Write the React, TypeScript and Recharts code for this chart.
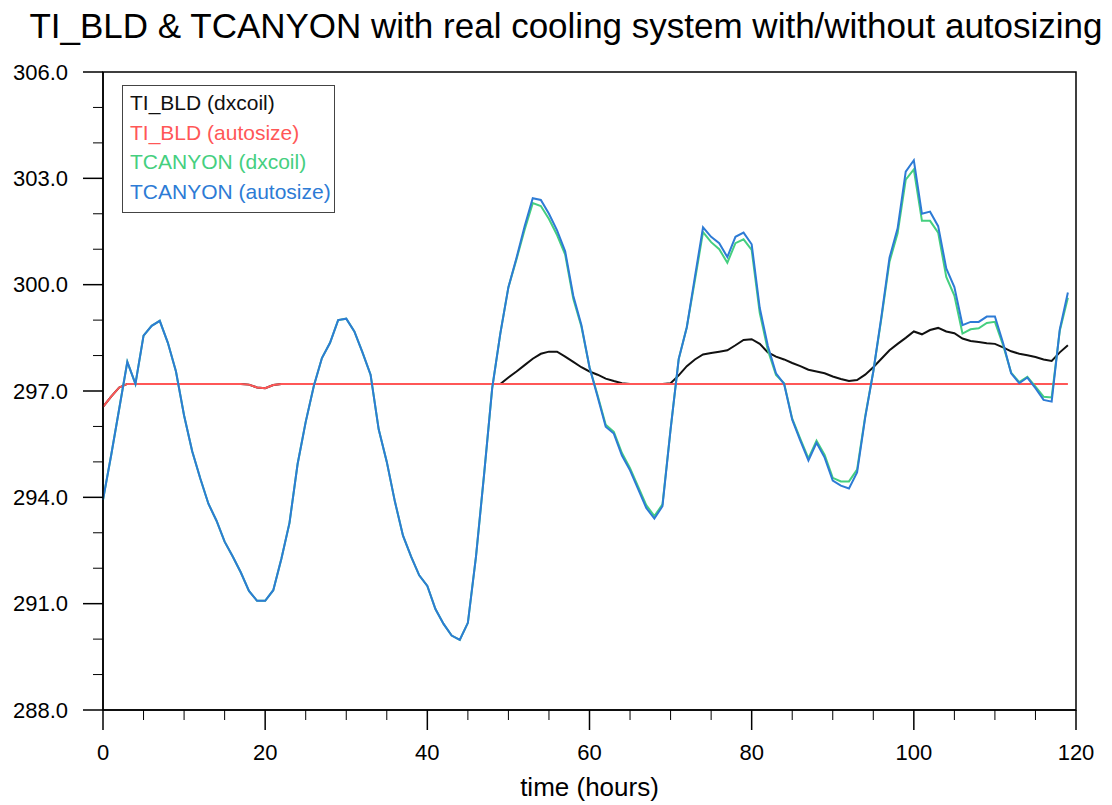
import { Line, LineChart, ReferenceArea, XAxis, YAxis } from "recharts";

const FONT = "'Liberation Sans', Arial, Helvetica, sans-serif";

const xTicks = [0, 5, 10, 15, 20, 25, 30, 35, 40, 45, 50, 55, 60, 65, 70, 75, 80, 85, 90, 95, 100, 105, 110, 115, 120];
const yTicks = [288, 289, 290, 291, 292, 293, 294, 295, 296, 297, 298, 299, 300, 301, 302, 303, 304, 305, 306];

// TI_BLD (dxcoil), hourly
const tiBldDxcoil = [
  296.55, 296.84, 297.1, 297.2, 297.2, 297.2, 297.2, 297.2, 297.2, 297.2,
  297.2, 297.2, 297.2, 297.2, 297.2, 297.2, 297.2, 297.2, 297.18, 297.1,
  297.08, 297.17, 297.2, 297.2, 297.2, 297.2, 297.2, 297.2, 297.2, 297.2,
  297.2, 297.2, 297.2, 297.2, 297.2, 297.2, 297.2, 297.2, 297.2, 297.2,
  297.2, 297.2, 297.2, 297.2, 297.2, 297.2, 297.2, 297.2, 297.2, 297.2,
  297.38, 297.55, 297.73, 297.91, 298.05, 298.11, 298.11, 297.97, 297.82, 297.67,
  297.55, 297.46, 297.35, 297.28, 297.22, 297.2, 297.2, 297.2, 297.2, 297.2,
  297.22, 297.44, 297.7, 297.89, 298.03, 298.07, 298.11, 298.15, 298.29, 298.44,
  298.46, 298.33, 298.09, 297.97, 297.89, 297.79, 297.7, 297.6, 297.55, 297.5,
  297.41, 297.34, 297.28, 297.31, 297.46, 297.67, 297.91, 298.15, 298.33, 298.5,
  298.68, 298.6, 298.72, 298.78, 298.68, 298.63, 298.48, 298.41, 298.38, 298.35,
  298.33, 298.23, 298.12, 298.05, 298.01, 297.96, 297.89, 297.85, 298.09, 298.29,
];

// TI_BLD (autosize)
const tiBldAutosize = [
  296.55, 296.84, 297.1, 297.2, 297.2, 297.2, 297.2, 297.2, 297.2, 297.2,
  297.2, 297.2, 297.2, 297.2, 297.2, 297.2, 297.2, 297.2, 297.18, 297.1,
  297.08, 297.17, 297.2, 297.2, 297.2, 297.2, 297.2, 297.2, 297.2, 297.2,
  297.2, 297.2, 297.2, 297.2, 297.2, 297.2, 297.2, 297.2, 297.2, 297.2,
  297.2, 297.2, 297.2, 297.2, 297.2, 297.2, 297.2, 297.2, 297.2, 297.2,
  297.2, 297.2, 297.2, 297.2, 297.2, 297.2, 297.2, 297.2, 297.2, 297.2,
  297.2, 297.2, 297.2, 297.2, 297.2, 297.2, 297.2, 297.2, 297.2, 297.2,
  297.2, 297.2, 297.2, 297.2, 297.2, 297.2, 297.2, 297.2, 297.2, 297.2,
  297.2, 297.2, 297.2, 297.2, 297.2, 297.2, 297.2, 297.2, 297.2, 297.2,
  297.2, 297.2, 297.2, 297.2, 297.2, 297.2, 297.2, 297.2, 297.2, 297.2,
  297.2, 297.2, 297.2, 297.2, 297.2, 297.2, 297.2, 297.2, 297.2, 297.2,
  297.2, 297.2, 297.2, 297.2, 297.2, 297.2, 297.2, 297.2, 297.2, 297.2,
];

// TCANYON (dxcoil)
const tcanyonDxcoil = [
  293.93, 295.18, 296.5, 297.82, 297.2, 298.56, 298.84, 298.98, 298.36, 297.55,
  296.31, 295.3, 294.53, 293.82, 293.34, 292.75, 292.33, 291.88, 291.36, 291.08,
  291.08, 291.38, 292.27, 293.28, 294.94, 296.13, 297.14, 297.93, 298.36, 299.0,
  299.04, 298.68, 298.09, 297.46, 295.92, 295.0, 293.88, 292.92, 292.33, 291.8,
  291.5, 290.85, 290.43, 290.1, 289.98, 290.46, 292.33, 294.65, 297.08, 298.62,
  299.93, 300.72, 301.55, 302.3, 302.22, 301.85, 301.4, 300.85, 299.6, 298.82,
  297.67, 296.88, 296.05, 295.85, 295.25, 294.82, 294.3, 293.78, 293.47, 293.8,
  295.92, 297.9, 298.8, 300.12, 301.48, 301.2, 301.0, 300.62, 301.17, 301.28,
  300.98, 299.2, 298.15, 297.45, 297.22, 296.22, 295.65, 295.1, 295.6, 295.2,
  294.55, 294.45, 294.45, 294.78, 296.28, 297.55, 299.05, 300.65, 301.45, 302.96,
  303.25, 301.8, 301.8, 301.47, 300.22, 299.69, 298.62, 298.74, 298.77, 298.92,
  298.95, 298.3, 297.52, 297.25, 297.4, 297.12, 296.84, 296.82, 298.7, 299.63,
];

// TCANYON (autosize)
const tcanyonAutosize = [
  293.93, 295.18, 296.5, 297.82, 297.2, 298.56, 298.84, 298.98, 298.36, 297.55,
  296.31, 295.3, 294.53, 293.82, 293.34, 292.75, 292.33, 291.88, 291.36, 291.08,
  291.08, 291.38, 292.27, 293.28, 294.94, 296.13, 297.14, 297.93, 298.36, 299.0,
  299.04, 298.68, 298.09, 297.46, 295.92, 295.0, 293.88, 292.92, 292.33, 291.8,
  291.5, 290.85, 290.43, 290.1, 289.98, 290.46, 292.33, 294.65, 297.08, 298.62,
  299.93, 300.76, 301.65, 302.44, 302.39, 302.0, 301.53, 300.94, 299.69, 298.86,
  297.67, 296.84, 295.99, 295.8, 295.18, 294.76, 294.23, 293.7, 293.4, 293.75,
  295.92, 297.9, 298.8, 300.22, 301.62, 301.35, 301.17, 300.78, 301.35, 301.47,
  301.14, 299.34, 298.27, 297.5, 297.2, 296.19, 295.6, 295.04, 295.54, 295.12,
  294.47, 294.33, 294.25, 294.7, 296.25, 297.55, 299.1, 300.76, 301.59, 303.19,
  303.51, 302.0, 302.06, 301.65, 300.46, 299.93, 298.86, 298.95, 298.95, 299.1,
  299.1, 298.36, 297.5, 297.22, 297.38, 297.08, 296.75, 296.7, 298.74, 299.78,
];

const series = [
  { key: "tiBldDx", name: "TI_BLD (dxcoil)", color: "#111111" },
  { key: "tiBldAuto", name: "TI_BLD (autosize)", color: "#ff5757" },
  { key: "tcDx", name: "TCANYON (dxcoil)", color: "#45cf7f" },
  { key: "tcAuto", name: "TCANYON (autosize)", color: "#2d7bd5" },
];

const data = tcanyonAutosize.map((_, i) => ({
  t: i,
  tiBldDx: tiBldDxcoil[i],
  tiBldAuto: tiBldAutosize[i],
  tcDx: tcanyonDxcoil[i],
  tcAuto: tcanyonAutosize[i],
}));

function XTick(props: any) {
  const { x, y, payload } = props;
  const major = payload.value % 20 === 0;
  return (
    <g>
      <line x1={x} x2={x} y1={y} y2={y + (major ? 20 : 10)} stroke="#000" strokeWidth={major ? 1.5 : 1} />
      {major && (
        <text x={x} y={y + 42} textAnchor="middle" dominantBaseline="central" fontSize={22} fontFamily={FONT} fill="#000">
          {payload.value}
        </text>
      )}
    </g>
  );
}

function YTick(props: any) {
  const { x, y, payload } = props;
  const major = payload.value % 3 === 0;
  return (
    <g>
      <line x1={x - (major ? 20 : 10)} x2={x} y1={y} y2={y} stroke="#000" strokeWidth={major ? 1.5 : 1} />
      {major && (
        <text x={x - 35} y={y} textAnchor="end" dominantBaseline="central" fontSize={22} fontFamily={FONT} fill="#000">
          {payload.value.toFixed(1)}
        </text>
      )}
    </g>
  );
}

export default function App() {
  return (
    <div style={{ position: "absolute", left: 0, top: 0, width: 1112, height: 805, background: "#fff" }}>
      <div
        style={{
          position: "absolute",
          left: 10,
          top: 8,
          width: 1112,
          textAlign: "center",
          fontFamily: FONT,
          fontSize: 35,
          lineHeight: "35px",
          color: "#000",
          whiteSpace: "nowrap",
        }}
      >
        TI_BLD &amp; TCANYON with real cooling system with/without autosizing
      </div>
      <LineChart width={1112} height={805} data={data} margin={{ top: 72, right: 36, bottom: 0, left: 8 }}>
        <ReferenceArea x1={0} x2={120} y1={288} y2={306} fill="none" stroke="#000" strokeWidth={1.5} fillOpacity={0} />
        <XAxis
          dataKey="t"
          type="number"
          domain={[0, 120]}
          ticks={xTicks}
          interval={0}
          height={95}
          tickSize={0}
          tickMargin={0}
          tickLine={false}
          tick={<XTick />}
          axisLine={{ stroke: "#000", strokeWidth: 1.5 }}
          label={{ value: "time (hours)", position: "insideBottom", offset: 9, fontSize: 26, fill: "#000", fontFamily: FONT }}
        />
        <YAxis
          type="number"
          domain={[288, 306]}
          ticks={yTicks}
          interval={0}
          width={95}
          tickSize={0}
          tickMargin={0}
          tickLine={false}
          tick={<YTick />}
          axisLine={{ stroke: "#000", strokeWidth: 1.5 }}
          allowDataOverflow
        />
        {series.map((s) => (
          <Line
            key={s.key}
            type="linear"
            dataKey={s.key}
            name={s.name}
            stroke={s.color}
            strokeWidth={2}
            dot={false}
            isAnimationActive={false}
          />
        ))}
      </LineChart>
      <div
        style={{
          position: "absolute",
          left: 122,
          top: 85,
          width: 213,
          height: 128,
          boxSizing: "border-box",
          border: "1.5px solid #444",
          background: "#fff",
          padding: "2px 0 0 7px",
          fontFamily: FONT,
          fontSize: 21,
          lineHeight: "29.5px",
        }}
      >
        {series.map((s) => (
          <div key={s.key} style={{ color: s.color, whiteSpace: "nowrap" }}>
            {s.name}
          </div>
        ))}
      </div>
    </div>
  );
}
